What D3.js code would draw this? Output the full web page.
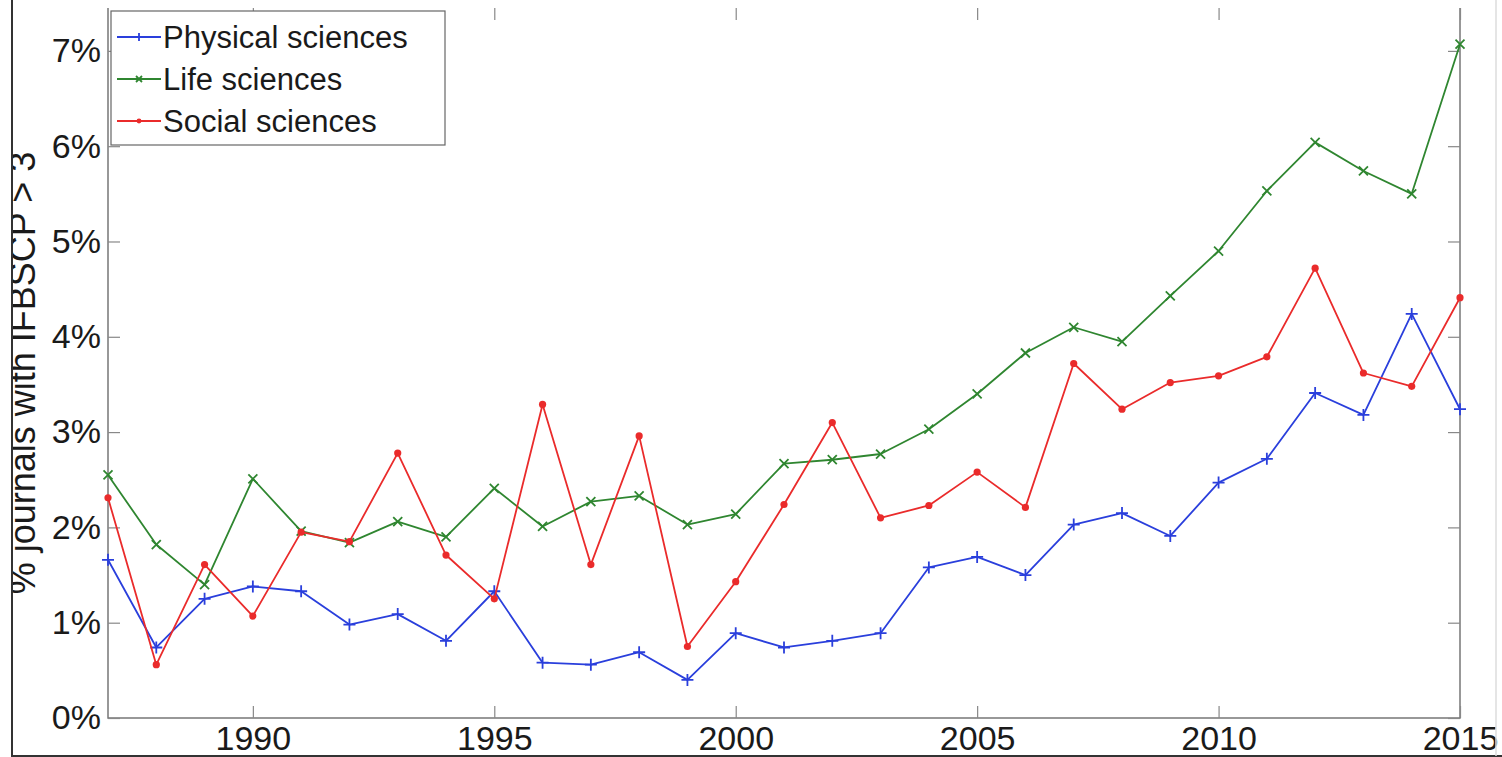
<!DOCTYPE html>
<html>
<head>
<meta charset="utf-8">
<script src="https://cdn.jsdelivr.net/npm/d3@7"></script>
<style>
  body { margin: 0; background: #fff; }
  svg { display: block; font-family: "Liberation Sans", Arial, sans-serif; }
</style>
</head>
<body>
<div id="chart"></div>
<script>
const years = d3.range(1987, 2016);
const physical = [1.66, 0.74, 1.25, 1.38, 1.33, 0.98, 1.09, 0.81, 1.33, 0.58, 0.56, 0.69, 0.40, 0.89, 0.74, 0.81, 0.89, 1.58, 1.69, 1.50, 2.03, 2.15, 1.91, 2.47, 2.72, 3.41, 3.18, 4.24, 3.24];
const life = [2.55, 1.82, 1.40, 2.51, 1.96, 1.84, 2.06, 1.90, 2.41, 2.01, 2.27, 2.33, 2.03, 2.14, 2.67, 2.71, 2.77, 3.03, 3.40, 3.83, 4.10, 3.95, 4.43, 4.90, 5.53, 6.04, 5.74, 5.50, 7.07];
const social = [2.31, 0.56, 1.61, 1.07, 1.95, 1.85, 2.78, 1.71, 1.25, 3.29, 1.61, 2.96, 0.75, 1.43, 2.24, 3.10, 2.10, 2.23, 2.58, 2.21, 3.72, 3.24, 3.52, 3.59, 3.79, 4.72, 3.62, 3.48, 4.41];
const seriesNames = ["Physical sciences", "Life sciences", "Social sciences"];
const xTicks = [1990, 1995, 2000, 2005, 2010, 2015];
const yTicks = [0, 1, 2, 3, 4, 5, 6, 7];

const W = 1502, H = 757;
const mLeft = 108, mRight = 1460, mTop = 8, mBottom = 718;

const svg = d3.select("#chart").append("svg")
  .attr("width", W)
  .attr("height", H);

const x = d3.scaleLinear().domain([1987, 2015]).range([mLeft, mRight]);
const y = d3.scaleLinear().domain([0, 7.45]).range([mBottom, mTop]);

const series = [
  { name: seriesNames[0], values: physical, color: "#2a3fdc", marker: "plus" },
  { name: seriesNames[1], values: life, color: "#2f8630", marker: "cross" },
  { name: seriesNames[2], values: social, color: "#ea2b2b", marker: "dot" }
];

// axes lines (top edge is not visible in the picture)
svg.append("path")
  .attr("d", `M${mLeft},${mTop}V${mBottom}H${mRight}V${mTop}`)
  .attr("fill", "none").attr("stroke", "#777").attr("stroke-width", 1.5);

// bottom axis
const xAxis = svg.append("g")
  .attr("transform", `translate(0,${mBottom})`)
  .call(d3.axisBottom(x).tickValues(xTicks).tickFormat(d3.format("d")).tickSizeInner(-12).tickSizeOuter(0).tickPadding(8));
// top ticks
const xAxisTop = svg.append("g")
  .attr("transform", `translate(0,${mTop})`)
  .call(d3.axisTop(x).tickValues(xTicks).tickFormat("").tickSizeInner(-12).tickSizeOuter(0));
// left axis
const yAxis = svg.append("g")
  .attr("transform", `translate(${mLeft},0)`)
  .call(d3.axisLeft(y).tickValues(yTicks).tickFormat(d => d + "%").tickSizeInner(-12).tickSizeOuter(0).tickPadding(7));
// right ticks
const yAxisRight = svg.append("g")
  .attr("transform", `translate(${mRight},0)`)
  .call(d3.axisRight(y).tickValues(yTicks).tickFormat("").tickSizeInner(-12).tickSizeOuter(0));

[xAxis, xAxisTop, yAxis, yAxisRight].forEach(g => {
  g.select(".domain").remove();
  g.selectAll(".tick line").attr("stroke", "#888").attr("stroke-width", 1.2);
  g.selectAll("text")
    .attr("font-family", "'Liberation Sans', Arial, sans-serif")
    .attr("font-size", 34)
    .attr("fill", "#1a1a1a");
});

// y label, its left side is clipped by the figure frame
svg.append("clipPath").attr("id", "labelClip")
  .append("rect").attr("x", 13).attr("y", 0).attr("width", 90).attr("height", H);
svg.append("g")
  .attr("clip-path", "url(#labelClip)")
  .append("text")
  .attr("transform", `translate(35,${(mTop + mBottom) / 2 + 10}) rotate(-90)`)
  .attr("text-anchor", "middle")
  .attr("font-size", 36)
  .attr("fill", "#1a1a1a")
  .text("% journals with IFBSCP > 3");

const line = d3.line()
  .x((d, i) => x(years[i]))
  .y(d => y(d));

function drawMarker(g, type, color, size) {
  if (type === "plus") {
    g.append("path").attr("d", `M${-size},0H${size}M0,${-size}V${size}`)
      .attr("stroke", color).attr("stroke-width", 1.8).attr("fill", "none");
  } else if (type === "cross") {
    const s = size * 0.75;
    g.append("path").attr("d", `M${-s},${-s}L${s},${s}M${-s},${s}L${s},${-s}`)
      .attr("stroke", color).attr("stroke-width", 1.8).attr("fill", "none");
  } else {
    g.append("circle").attr("r", size * 0.6).attr("fill", color);
  }
}

series.forEach(s => {
  svg.append("path")
    .datum(s.values)
    .attr("d", line)
    .attr("fill", "none")
    .attr("stroke", s.color)
    .attr("stroke-width", 1.8)
    .attr("stroke-linejoin", "round");

  svg.append("g").selectAll("g")
    .data(s.values)
    .join("g")
    .attr("transform", (d, i) => `translate(${x(years[i])},${y(d)})`)
    .each(function () { drawMarker(d3.select(this), s.marker, s.color, 6); });
});

// legend
const legend = svg.append("g").attr("transform", "translate(111,11)");
legend.append("rect")
  .attr("width", 334).attr("height", 134)
  .attr("fill", "#fff").attr("stroke", "#666").attr("stroke-width", 1.2);
series.forEach((s, i) => {
  const row = legend.append("g").attr("transform", `translate(0,${26 + i * 42})`);
  row.append("line").attr("x1", 6).attr("x2", 50).attr("y1", 0).attr("y2", 0)
    .attr("stroke", s.color).attr("stroke-width", 1.8);
  const m = row.append("g").attr("transform", "translate(28,0)");
  drawMarker(m, s.marker, s.color, 4);
  row.append("text")
    .attr("x", 52).attr("y", 0).attr("dy", "0.36em")
    .attr("font-size", 31).attr("fill", "#1a1a1a")
    .text(s.name);
});

// figure frame
svg.append("line").attr("x1", 12).attr("x2", 12).attr("y1", 0).attr("y2", H)
  .attr("stroke", "#333").attr("stroke-width", 2);
svg.append("line").attr("x1", 12).attr("x2", W).attr("y1", 756).attr("y2", 756)
  .attr("stroke", "#333").attr("stroke-width", 2);
svg.append("line").attr("x1", 1496).attr("x2", 1496).attr("y1", 0).attr("y2", 756)
  .attr("stroke", "#ddd").attr("stroke-width", 1.5);
</script>
</body>
</html>
